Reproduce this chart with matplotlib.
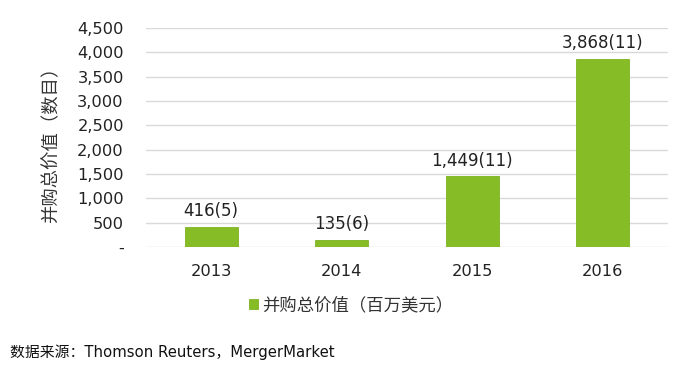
import matplotlib
matplotlib.use("Agg")
import matplotlib.pyplot as plt
from matplotlib.ticker import FuncFormatter

plt.rcParams['font.family'] = ['DejaVu Sans', 'Noto Sans CJK SC']

years = ['2013', '2014', '2015', '2016']
values = [416, 135, 1449, 3868]
counts = [5, 6, 11, 11]
yticks = [0, 500, 1000, 1500, 2000, 2500, 3000, 3500, 4000, 4500]
series_name = '并购总价值（百万美元）'
ylabel = '并购总价值（数目）'
source = '数据来源：Thomson Reuters，MergerMarket'

green = '#86BC25'
txt = '#222222'

fig = plt.figure(figsize=(7.0, 3.72), dpi=100)
ax = fig.add_axes([146/700, 1 - 247/372, (668-146)/700, (247-28)/372])

x = list(range(len(years)))
bars = ax.bar(x, values, width=0.405, color=green, edgecolor='#7fb320', linewidth=0.6,
              label=series_name, zorder=3)
for xi, v, c in zip(x, values, counts):
    ax.annotate(f'{v:,}({c})', (xi, v), xytext=(0, 5), textcoords='offset points',
                ha='center', va='bottom', fontsize=12, color=txt)

ax.set_xlim(-0.5, len(years) - 0.5)
ax.set_ylim(0, 4500)
ax.set_yticks(yticks)
ax.yaxis.set_major_formatter(FuncFormatter(lambda v, p: '-' if v == 0 else f'{int(v):,}'))
ax.set_xticks(x)
ax.set_xticklabels(years)
ax.tick_params(axis='y', length=0, pad=16, labelsize=11.7, labelcolor=txt)
ax.tick_params(axis='x', length=0, pad=12, labelsize=11.7, labelcolor=txt)
ax.grid(axis='y', color='#d9d9d9', linewidth=1.0, zorder=0)
for s in ax.spines.values():
    s.set_visible(False)
ax.set_axisbelow(True)

fig.text(51/700, 1 - 140/372, ylabel, rotation=90, ha='center', va='center',
         fontsize=13.2, color='#333333', family=['Noto Sans CJK SC', 'DejaVu Sans'])

leg = fig.legend(handles=[bars], labels=[series_name], loc='center',
                 bbox_to_anchor=(351/700, 1 - 305/372), frameon=False,
                 handlelength=0.55, handleheight=0.55, handletextpad=0.2,
                 prop={'family': ['Noto Sans CJK SC', 'DejaVu Sans'], 'size': 12.5})
for t in leg.get_texts():
    t.set_color('#333333')

fig.text(10/700, 1 - 352/372, source, ha='left', va='center', fontsize=10.7,
         color='#111111')

fig.savefig('out.png', dpi=100)
